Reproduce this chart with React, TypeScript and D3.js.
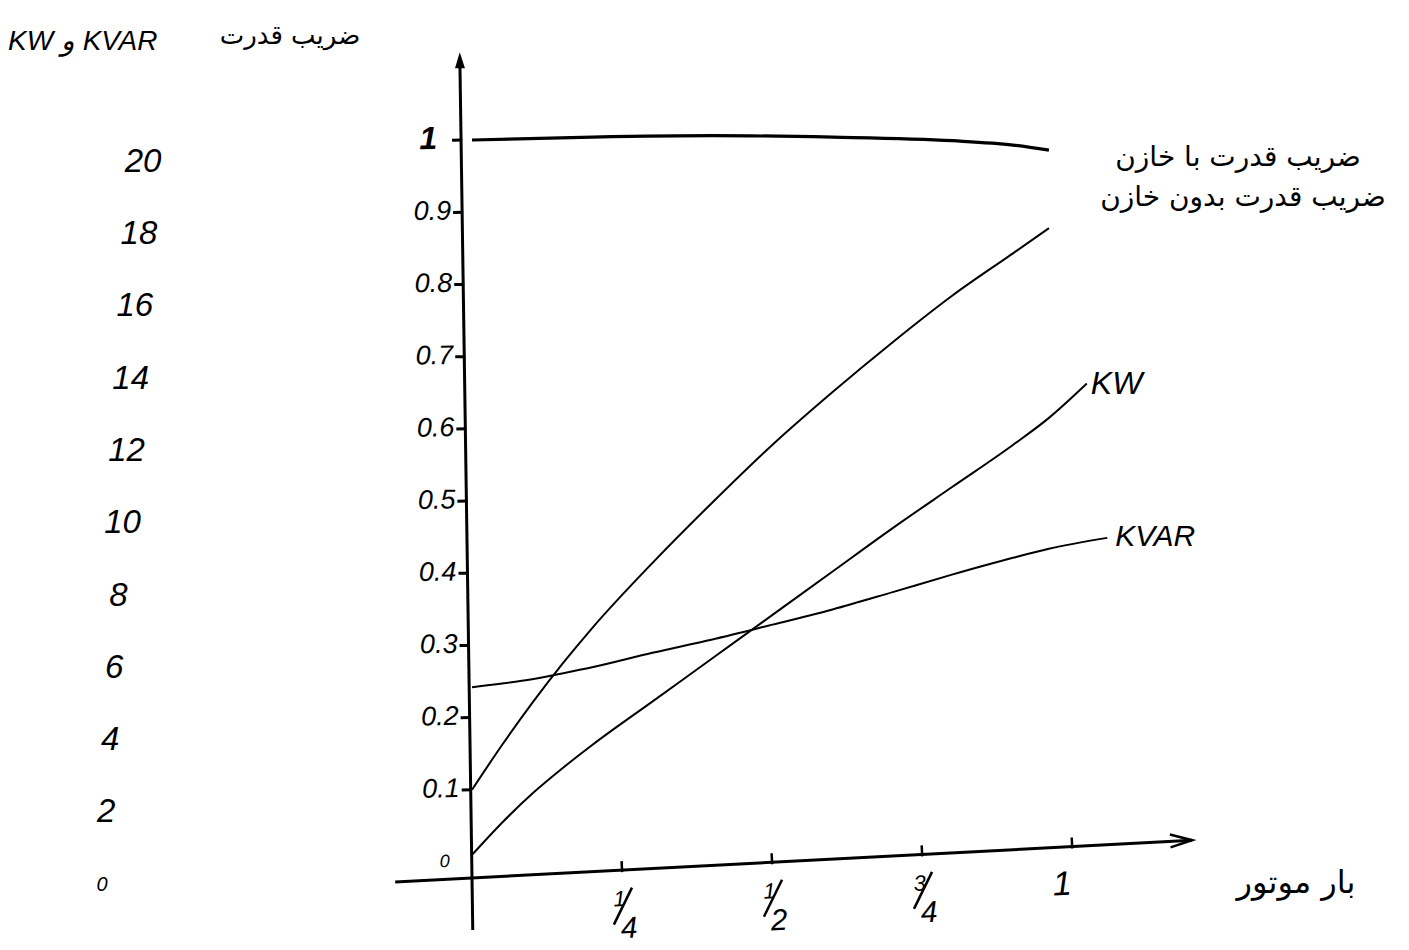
import React from 'react';
import * as d3 from 'd3';

const W = 1409;
const H = 950;

// x: motor load (fraction of full load)
const loadTicks = [0.25, 0.5, 0.75, 1];
const loadTickLabels = [['1', '4'], ['1', '2'], ['3', '4'], ['1']];

// left inner axis: power factor
const pfTicks = [0, 0.1, 0.2, 0.3, 0.4, 0.5, 0.6, 0.7, 0.8, 0.9, 1];
const pfTickLabels = ['0', '0.1', '0.2', '0.3', '0.4', '0.5', '0.6', '0.7', '0.8', '0.9', '1'];

// far-left axis: KW and KVAR
const kwTicks = [0, 2, 4, 6, 8, 10, 12, 14, 16, 18, 20];
const kwTickLabels = ['0', '2', '4', '6', '8', '10', '12', '14', '16', '18', '20'];

// power factor with capacitor
const pfWithLoad = [0, 0.2, 0.4, 0.6, 0.8, 0.9, 0.96];
const pfWith = [1.0, 1.004, 1.006, 1.004, 0.999, 0.993, 0.986];

// power factor without capacitor
const pfWithoutLoad = [0, 0.05, 0.1, 0.15, 0.2, 0.3, 0.4, 0.5, 0.6, 0.7, 0.8, 0.9, 0.96];
const pfWithout = [0.1, 0.162, 0.22, 0.274, 0.324, 0.414, 0.498, 0.578, 0.651, 0.72, 0.785, 0.843, 0.878];

// KW
const kwLoad = [0, 0.05, 0.1, 0.15, 0.2, 0.3, 0.4, 0.5, 0.6, 0.7, 0.8, 0.9, 0.96, 1.023];
const kwValues = [0.86, 1.75, 2.55, 3.25, 3.9, 5.1, 6.3, 7.5, 8.7, 9.9, 11.05, 12.2, 12.95, 13.9];

// KVAR
const kvarLoad = [0, 0.05, 0.1, 0.15, 0.2, 0.3, 0.4, 0.5, 0.6, 0.7, 0.8, 0.9, 0.96, 1.057];
const kvarValues = [5.5, 5.6, 5.72, 5.88, 6.05, 6.45, 6.82, 7.23, 7.65, 8.13, 8.62, 9.08, 9.33, 9.63];

const titlePF = 'ضریب قدرت';
const titleKW = 'KW و KVAR';
const labelWith = 'ضریب قدرت با خازن';
const labelWithout = 'ضریب قدرت بدون خازن';
const labelLoad = 'بار موتور';
const labelKW = 'KW';
const labelKVAR = 'KVAR';

const x = d3.scaleLinear().domain([0, 1]).range([472, 1073]);
const pf = d3.scaleLinear().domain([0, 1]).range([862, 140]);
const kw = d3.scaleLinear().domain([0, 20]).range([886, 163]);
const kwLabelX = d3.scaleLinear().domain([0, 20]).range([102, 143]);

const ORIGIN_Y = 878;
const latin = "'Liberation Sans', 'DejaVu Sans', sans-serif";
const arabic = "'DejaVu Sans', 'Noto Sans', sans-serif";

function makeLine(xs: number[], ys: number[], yScale: d3.ScaleLinear<number, number>) {
  const pts: [number, number][] = xs.map((v, i) => [x(v), yScale(ys[i])]);
  return d3.line().curve(d3.curveMonotoneX)(pts) || '';
}

export default function App() {
  const x0 = x(0);
  const xEnd = x(1.2);
  const yTop = pf(1.105);
  const yBottom = 930;

  return (
    <svg width={W} height={H} style={{ position: 'absolute', left: 0, top: 0, background: '#fff' }}>
      {/* far-left KW/KVAR labels */}
      <text x={8} y={50} fontFamily={latin} fontStyle="italic" fontSize={28} fill="#000">
        {titleKW}
      </text>
      {kwTicks.map((t, i) => (
        <text
          key={'kw' + t}
          x={kwLabelX(t)}
          y={kw(t)}
          textAnchor="middle"
          dominantBaseline="middle"
          fontFamily={latin}
          fontStyle="italic"
          fontSize={t === 0 ? 20 : 33}
          fill="#000"
        >
          {kwTickLabels[i]}
        </text>
      ))}

      {/* power-factor title */}
      <text x={290} y={44} textAnchor="middle" fontFamily={arabic} fontSize={26} fill="#000">
        {titlePF}
      </text>

      {/* y axis (power factor) */}
      <g transform={`rotate(-0.85, ${x0}, ${ORIGIN_Y})`}>
        <line x1={x0} y1={yBottom} x2={x0} y2={yTop} stroke="#000" strokeWidth={3} />
        <path
          d={`M${x0},${yTop - 12} L${x0 - 5},${yTop + 4} L${x0 + 5},${yTop + 4} Z`}
          fill="#000"
        />
        {pfTicks.map((t, i) => (
          <g key={'pf' + t}>
            {t > 0 && (
              <line x1={x0 - 9} x2={x0 + 1} y1={pf(t)} y2={pf(t)} stroke="#000" strokeWidth={3} />
            )}
            <text
              x={t === 1 ? x0 - 24 : t === 0 ? x0 - 22 : x0 - 11}
              y={pf(t)}
              textAnchor="end"
              dominantBaseline="middle"
              fontFamily={latin}
              fontStyle="italic"
              fontWeight={t === 1 ? 'bold' : 'normal'}
              fontSize={t === 1 ? 32 : t === 0 ? 18 : 27}
              fill="#000"
            >
              {pfTickLabels[i]}
            </text>
          </g>
        ))}
      </g>

      {/* x axis (motor load) */}
      <g transform={`rotate(-3, ${x0}, ${ORIGIN_Y})`}>
        <line x1={x(-0.128)} y1={ORIGIN_Y} x2={xEnd} y2={ORIGIN_Y} stroke="#000" strokeWidth={3} />
        <path
          d={`M${xEnd - 22},${ORIGIN_Y - 7} L${xEnd},${ORIGIN_Y} L${xEnd - 22},${ORIGIN_Y + 6}`}
          fill="none"
          stroke="#000"
          strokeWidth={2.5}
        />
        {loadTicks.map((t, i) => {
          const lab = loadTickLabels[i];
          const tx = x(t);
          return (
            <g key={'ld' + t}>
              <line x1={tx} x2={tx} y1={ORIGIN_Y - 9} y2={ORIGIN_Y + 2} stroke="#000" strokeWidth={2.5} />
              {lab.length === 2 ? (
                <g fontFamily={latin} fontStyle="italic" fill="#000">
                  <text x={tx - 4} y={ORIGIN_Y + 36} textAnchor="middle" fontSize={22}>
                    {lab[0]}
                  </text>
                  <line
                    x1={tx - 11}
                    y1={ORIGIN_Y + 54}
                    x2={tx + 9}
                    y2={ORIGIN_Y + 18}
                    stroke="#000"
                    strokeWidth={2.5}
                  />
                  <text x={tx + 4} y={ORIGIN_Y + 68} textAnchor="middle" fontSize={30}>
                    {lab[1]}
                  </text>
                </g>
              ) : (
                <text
                  x={tx - 12}
                  y={ORIGIN_Y + 48}
                  textAnchor="middle"
                  fontFamily={latin}
                  fontStyle="italic"
                  fontSize={34}
                  fill="#000"
                >
                  {lab[0]}
                </text>
              )}
            </g>
          );
        })}
      </g>
      <text x={1296} y={893} textAnchor="middle" fontFamily={arabic} fontSize={32} fill="#000">
        {labelLoad}
      </text>

      {/* curves */}
      <path d={makeLine(pfWithLoad, pfWith, pf)} fill="none" stroke="#000" strokeWidth={3.2} />
      <path d={makeLine(pfWithoutLoad, pfWithout, pf)} fill="none" stroke="#000" strokeWidth={2} />
      <path d={makeLine(kwLoad, kwValues, kw)} fill="none" stroke="#000" strokeWidth={2} />
      <path d={makeLine(kvarLoad, kvarValues, kw)} fill="none" stroke="#000" strokeWidth={2} />

      {/* series labels */}
      <text x={1238} y={166} textAnchor="middle" fontFamily={arabic} fontSize={28} fill="#000">
        {labelWith}
      </text>
      <text x={1243} y={206} textAnchor="middle" fontFamily={arabic} fontSize={28} fill="#000">
        {labelWithout}
      </text>
      <text
        x={x(1.023) + 4}
        y={kw(13.9) + 2}
        dominantBaseline="middle"
        fontFamily={latin}
        fontStyle="italic"
        fontSize={32}
        fill="#000"
      >
        {labelKW}
      </text>
      <text
        x={x(1.057) + 8}
        y={kw(9.63)}
        dominantBaseline="middle"
        fontFamily={latin}
        fontStyle="italic"
        fontSize={30}
        fill="#000"
      >
        {labelKVAR}
      </text>
    </svg>
  );
}
